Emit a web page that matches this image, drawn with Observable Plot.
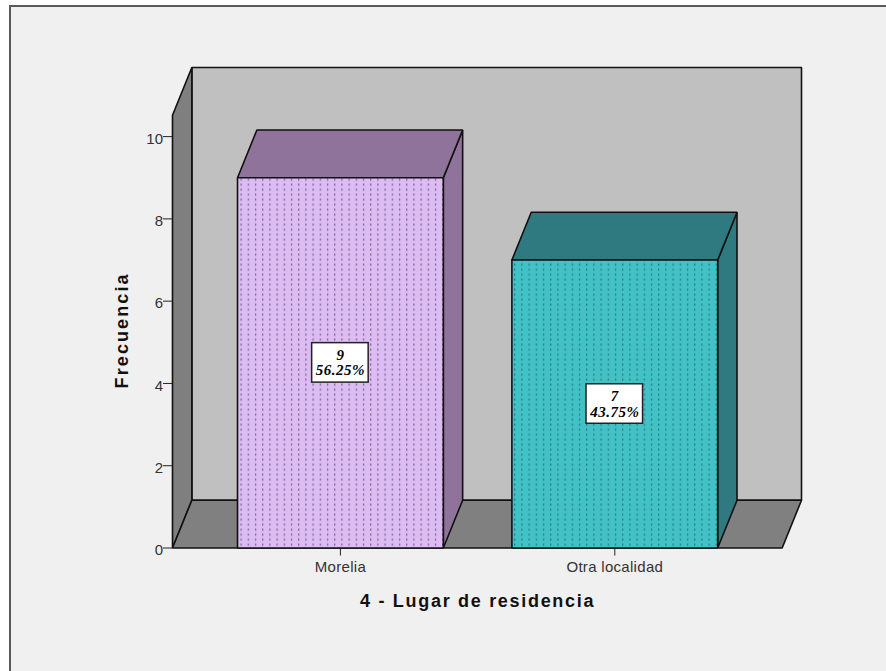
<!DOCTYPE html>
<html>
<head>
<meta charset="utf-8">
<script src="https://cdn.jsdelivr.net/npm/d3@7"></script>
<script src="https://cdn.jsdelivr.net/npm/@observablehq/plot@0.6"></script>
<style>
  html, body { margin: 0; padding: 0; background: #fff; width: 886px; height: 671px; overflow: hidden; }
  #frame { position: absolute; left: 9px; top: 5px; right: 0; bottom: 0; background: #f0f0f0;
           border-left: 2px solid #5a5a5a; border-top: 2px solid #5a5a5a; }
  #chart { position: absolute; left: 0; top: 0; }
  .y-title text { letter-spacing: 2.1px; }
  .x-title text { letter-spacing: 1.7px; }
  .tick-labels text { letter-spacing: 0.3px; }
  .bar-labels text { letter-spacing: 0.5px; }
</style>
</head>
<body>
<div id="frame"></div>
<div id="chart"></div>
<script>
const categories = ["Morelia", "Otra localidad"];
const counts = [9, 7];
const percents = ["56.25%", "43.75%"];
const frontColors = ["url(#dotsPurple)", "url(#dotsTeal)"];
const sideColors = ["#8f739b", "#2e7a80"];
const yTicks = [0, 2, 4, 6, 8, 10];
const xTitle = "4 - Lugar de residencia";
const yTitle = "Frecuencia";

// Oblique projection, in data units
const depthX = 0.0705, depthY = 1.16;
const halfBar = 0.375;
const xLeft = -0.612, xRight = 1.61, yTop = 10.52;

const face = (pts) => pts.map(([x, y, d]) => ({ x: x + d * depthX, y: y + d * depthY }));
const poly = (pts, fill, extra = {}) =>
  Plot.line(face(pts), { x: "x", y: "y", fill, stroke: "#111", strokeWidth: 1.6, curve: "linear-closed", strokeLinejoin: "miter", ...extra });

const defs = () => {
  const d = d3.create("svg:defs");
  [["dotsPurple", "#dcbcf1", "#7a62a0"], ["dotsTeal", "#43c2c5", "#267a8a"]].forEach(([id, bg, dot]) => {
    const p = d.append("pattern").attr("id", id).attr("patternUnits", "userSpaceOnUse")
      .attr("width", 7.2).attr("height", 5)
      .attr("patternTransform", "translate(2.4,3)");
    p.append("rect").attr("width", 7.2).attr("height", 5).attr("fill", bg);
    p.append("rect").attr("x", 0).attr("y", 0).attr("width", 1.2).attr("height", 2.2).attr("fill", dot);
  });
  return d.node();
};

const bars = categories.flatMap((c, i) => {
  const l = i - halfBar, r = i + halfBar, v = counts[i];
  return [
    poly([[r, 0, 0], [r, 0, 1], [r, v, 1], [r, v, 0]], sideColors[i]),
    poly([[l, v, 0], [r, v, 0], [r, v, 1], [l, v, 1]], sideColors[i]),
    poly([[l, 0, 0], [r, 0, 0], [r, v, 0], [l, v, 0]], frontColors[i])
  ];
});

const labels = categories.map((c, i) => ({ i, mid: counts[i] / 2, text: `${counts[i]}\n${percents[i]}` }));

const chart = Plot.plot({
  width: 886, height: 671,
  marginLeft: 172, marginRight: 85, marginTop: 67, marginBottom: 123.5,
  style: { background: "transparent" },
  x: { domain: [xLeft, xRight + depthX] },
  y: { domain: [0, yTop + depthY] },
  marks: [
    defs,
    poly([[xLeft, 0, 1], [xRight, 0, 1], [xRight, yTop, 1], [xLeft, yTop, 1]], "#c0c0c0"),
    poly([[xLeft, 0, 0], [xLeft, 0, 1], [xLeft, yTop, 1], [xLeft, yTop, 0]], "#7f7f7f"),
    poly([[xLeft, 0, 0], [xRight, 0, 0], [xRight, 0, 1], [xLeft, 0, 1]], "#808080"),
    ...bars,
    Plot.rect(labels, {
      x1: d => d.i - 0.103, x2: d => d.i + 0.103,
      y1: d => d.mid - 0.48, y2: d => d.mid + 0.48,
      fill: "white", stroke: "#222", strokeWidth: 1.5
    }),
    Plot.text(labels, {
      x: "i", y: "mid", text: "text", lineHeight: 1.02, className: "bar-labels",
      fontFamily: "Liberation Serif", fontWeight: "bold", fontStyle: "italic", fontSize: 15, fill: "#000"
    }),
    Plot.axisY({ ticks: yTicks, tickSize: 9, text: null, stroke: "#222", label: null }),
    Plot.axisY({
      ticks: yTicks, tickSize: 0, tickPadding: 9.5, dy: 2.5, label: null,
      fontFamily: "Liberation Sans", fontSize: 15, fill: "#333"
    }),
    Plot.axisX({
      ticks: categories.map((c, i) => i), tickFormat: i => categories[i], tickSize: 8, tickPadding: 5, label: null,
      className: "tick-labels",
      fontFamily: "Liberation Sans", fontSize: 15, stroke: "#222", color: "#333"
    }),
    Plot.text([xTitle], {
      x: () => 0.5, frameAnchor: "bottom", dy: 59, text: d => d, className: "x-title",
      fontFamily: "Liberation Sans", fontWeight: "bold", fontSize: 18, fill: "#111"
    }),
    Plot.text([yTitle], {
      y: () => yTop / 2 + 0.03, frameAnchor: "left", textAnchor: "middle", dx: -50, rotate: -90, text: d => d, className: "y-title",
      fontFamily: "Liberation Sans", fontWeight: "bold", fontSize: 18, fill: "#111"
    })
  ]
});
document.getElementById("chart").append(chart);
</script>
</body>
</html>
